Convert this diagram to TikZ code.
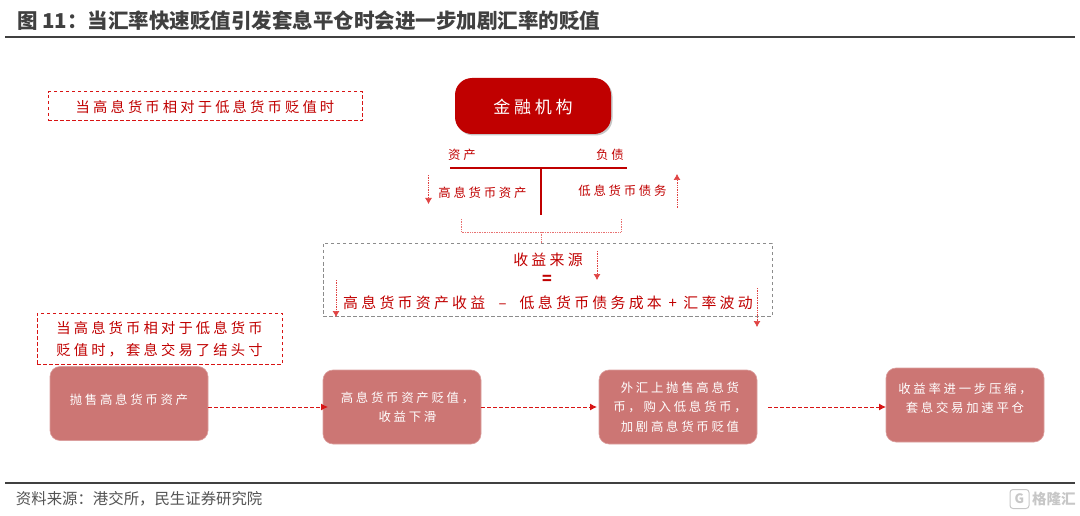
\documentclass[tikz,border=0pt]{standalone}
\usepackage{fontspec}
\setmainfont{Noto Sans CJK SC}
\newfontfamily\cjkwide[LetterSpace=22]{Noto Sans CJK SC}
\usetikzlibrary{arrows.meta, calc, positioning, shadows}
\definecolor{deepred}{HTML}{C00000}
\definecolor{softred}{HTML}{CC7674}
\definecolor{rulegrey}{HTML}{404040}
\definecolor{flowred}{HTML}{D81414}
\newcommand{\zhcomma}{\symbol{"FF0C}}
\newcommand{\zhcolon}{\symbol{"FF1A}}
\begin{document}
\begin{tikzpicture}[
        x=1pt, y=-1pt,
        inner sep=0pt, outer sep=0pt,
        base/.style = {rounded corners=10pt, align=center, fill=softred,
                       draw=softred!70!white, line width=.6pt,
                       text=white, font=\cjkwide\fontsize{12.4}{19.5}\selectfont,
                       minimum width=158pt, minimum height=74pt},
        note/.style = {draw=flowred, line width=1pt, dash pattern=on 3.5pt off 2.5pt, align=center,
                       text=deepred, font=\cjkwide\fontsize{14.3}{22}\selectfont},
        redtext/.style = {text=deepred, font=\cjkwide\fontsize{12.4}{16}\selectfont},
        bigtext/.style = {text=deepred, font=\cjkwide\fontsize{14.9}{18}\selectfont},
        flow/.style = {draw=flowred, line width=1pt, dash pattern=on 3.5pt off 2.5pt,
                       -{Latex[length=7pt,width=7pt]}},
        hint/.style = {draw=flowred!80!white, densely dotted, line width=.7pt,
                       -{Latex[length=6pt,width=7pt]}},
        bracket/.style = {draw=flowred!60!white, densely dotted, line width=.7pt},
        rulebar/.style = {draw=rulegrey, line width=1.6pt},
        ]
        \useasboundingbox (0,0) rectangle (1080,516);

        % header and footer
        \node [anchor=west, text=rulegrey, font=\bfseries\fontsize{20.5}{24}\selectfont] (title) at (17,21)
            {图 11\zhcolon 当汇率快速贬值引发套息平仓时会进一步加剧汇率的贬值};
        \coordinate (topL) at (5,37);
        \coordinate (topR) at (1075,37);
        \coordinate (botL) at (5,483);
        \coordinate (botR) at (1075,483);
        \draw [rulebar] (topL) -- (topR);
        \draw [rulebar] (botL) -- (botR);
        \node [anchor=west, text=rulegrey!90!white, font=\fontsize{15.4}{20}\selectfont] (source) at (16,498.5)
            {资料来源\zhcolon 港交所\zhcomma 民生证券研究院};
        \node [draw=black!22, line width=1pt, rounded corners=3pt, minimum size=19pt, text=black!22,
               font=\bfseries\fontsize{13}{13}\selectfont] (logo) at (1019.5,499) {G};
        \node [right=3pt of logo, text=black!22, font=\bfseries\fontsize{14.5}{16}\selectfont] (mark) {格隆汇};

        % balance sheet
        \node [fill=deepred, rounded corners=17pt, text=white, minimum width=156pt, minimum height=56pt,
               drop shadow={opacity=.45, shadow xshift=1.5pt, shadow yshift=-1.5pt}, text depth=-1pt,
               font=\cjkwide\fontsize{17}{22}\selectfont] (bank) at (533,106) {金融机构};
        \node [note, minimum width=314pt, minimum height=29pt, text depth=-2pt] (when) at (205,106.5) {当高息货币相对于低息货币贬值时};
        \node [redtext] (assets) at (462,155) {资产};
        \node [redtext] (debts) at (610,155) {负债};
        \coordinate (barL) at (450,168);
        \coordinate (barR) at (627,168);
        \coordinate (barM) at (541,168);
        \coordinate (barB) at (541,215);
        \draw [deepred, line width=2.4pt] (barL) -- (barR) (barM) -- (barB);
        \node [redtext] (high) at (482.5,193) {高息货币资产};
        \node [redtext] (low) at (622.5,191) {低息货币债务};
        \coordinate (h1) at (428.5,175);
        \coordinate (h2) at (428.5,204);
        \coordinate (h3) at (677,208);
        \coordinate (h4) at (677,174);
        \draw [hint] (h1) -- (h2);
        \draw [hint] (h3) -- (h4);

        % income box
        \node [draw=black!45, line width=.9pt, dash pattern=on 3.5pt off 2.5pt, minimum width=449pt, minimum height=73pt] (income) at (547.5,279.5) {};
        \node [bigtext] (src) at (548,259.5) {收益来源};
        \node [bigtext, font=\bfseries\fontsize{16}{18}\selectfont] (eq) at (547,280) {=};
        \node [bigtext] (sum) at (548,302.5) {高息货币资产收益 \ – \ 低息货币债务成本 + 汇率波动};
        \coordinate (b1) at (461,219);
        \coordinate (b2) at (621,219);
        \coordinate (b3) at (541,232);
        \draw [bracket] (b1) |- (b3) -| (b2);
        \draw [bracket] (b3) -- (income.north -| b3);
        \coordinate (h5) at (597,251);
        \coordinate (h6) at (597,280);
        \coordinate (h7) at (336,280);
        \coordinate (h8) at (336,317);
        \coordinate (h9) at (757,288);
        \coordinate (h10) at (757,327);
        \draw [hint] (h5) -- (h6);
        \draw [hint] (h7) -- (h8);
        \draw [hint] (h9) -- (h10);

        % chain of steps
        \node [note, minimum width=245pt, minimum height=51pt, text depth=-4pt] (carry) at (159.5,338.5)
            {当高息货币相对于低息货币\\贬值时\zhcomma 套息交易了结头寸};
        \node [base, anchor=west, text depth=9pt] (sell) at (50,403.5) {抛售高息货币资产};
        \node [base, right=115pt of sell, yshift=-3.5pt] (fall) {\hspace*{11pt}高息货币资产贬值\zhcomma \\\hspace*{11pt}收益下滑};
        \node [base, right=118pt of fall] (fx) {\hspace*{4pt}外汇上抛售高息货\\\hspace*{4pt}币\zhcomma 购入低息货币\zhcomma \\\hspace*{4pt}加剧高息货币贬值};
        \node [base, right=129pt of fx, yshift=2pt, text depth=15pt] (squeeze) {收益率进一步压缩\zhcomma \\套息交易加速平仓};
        \coordinate (start) at (sell.east |- fall.west);
        \coordinate (gap) at (768,407);
        \draw [flow, shorten >=-5pt] (start) -- (fall.west);
        \draw [flow, shorten >=2pt] (fall.east) -- (fx.west);
        \draw [flow] (gap) -- (squeeze.west |- gap);
    \end{tikzpicture}
\end{document}
